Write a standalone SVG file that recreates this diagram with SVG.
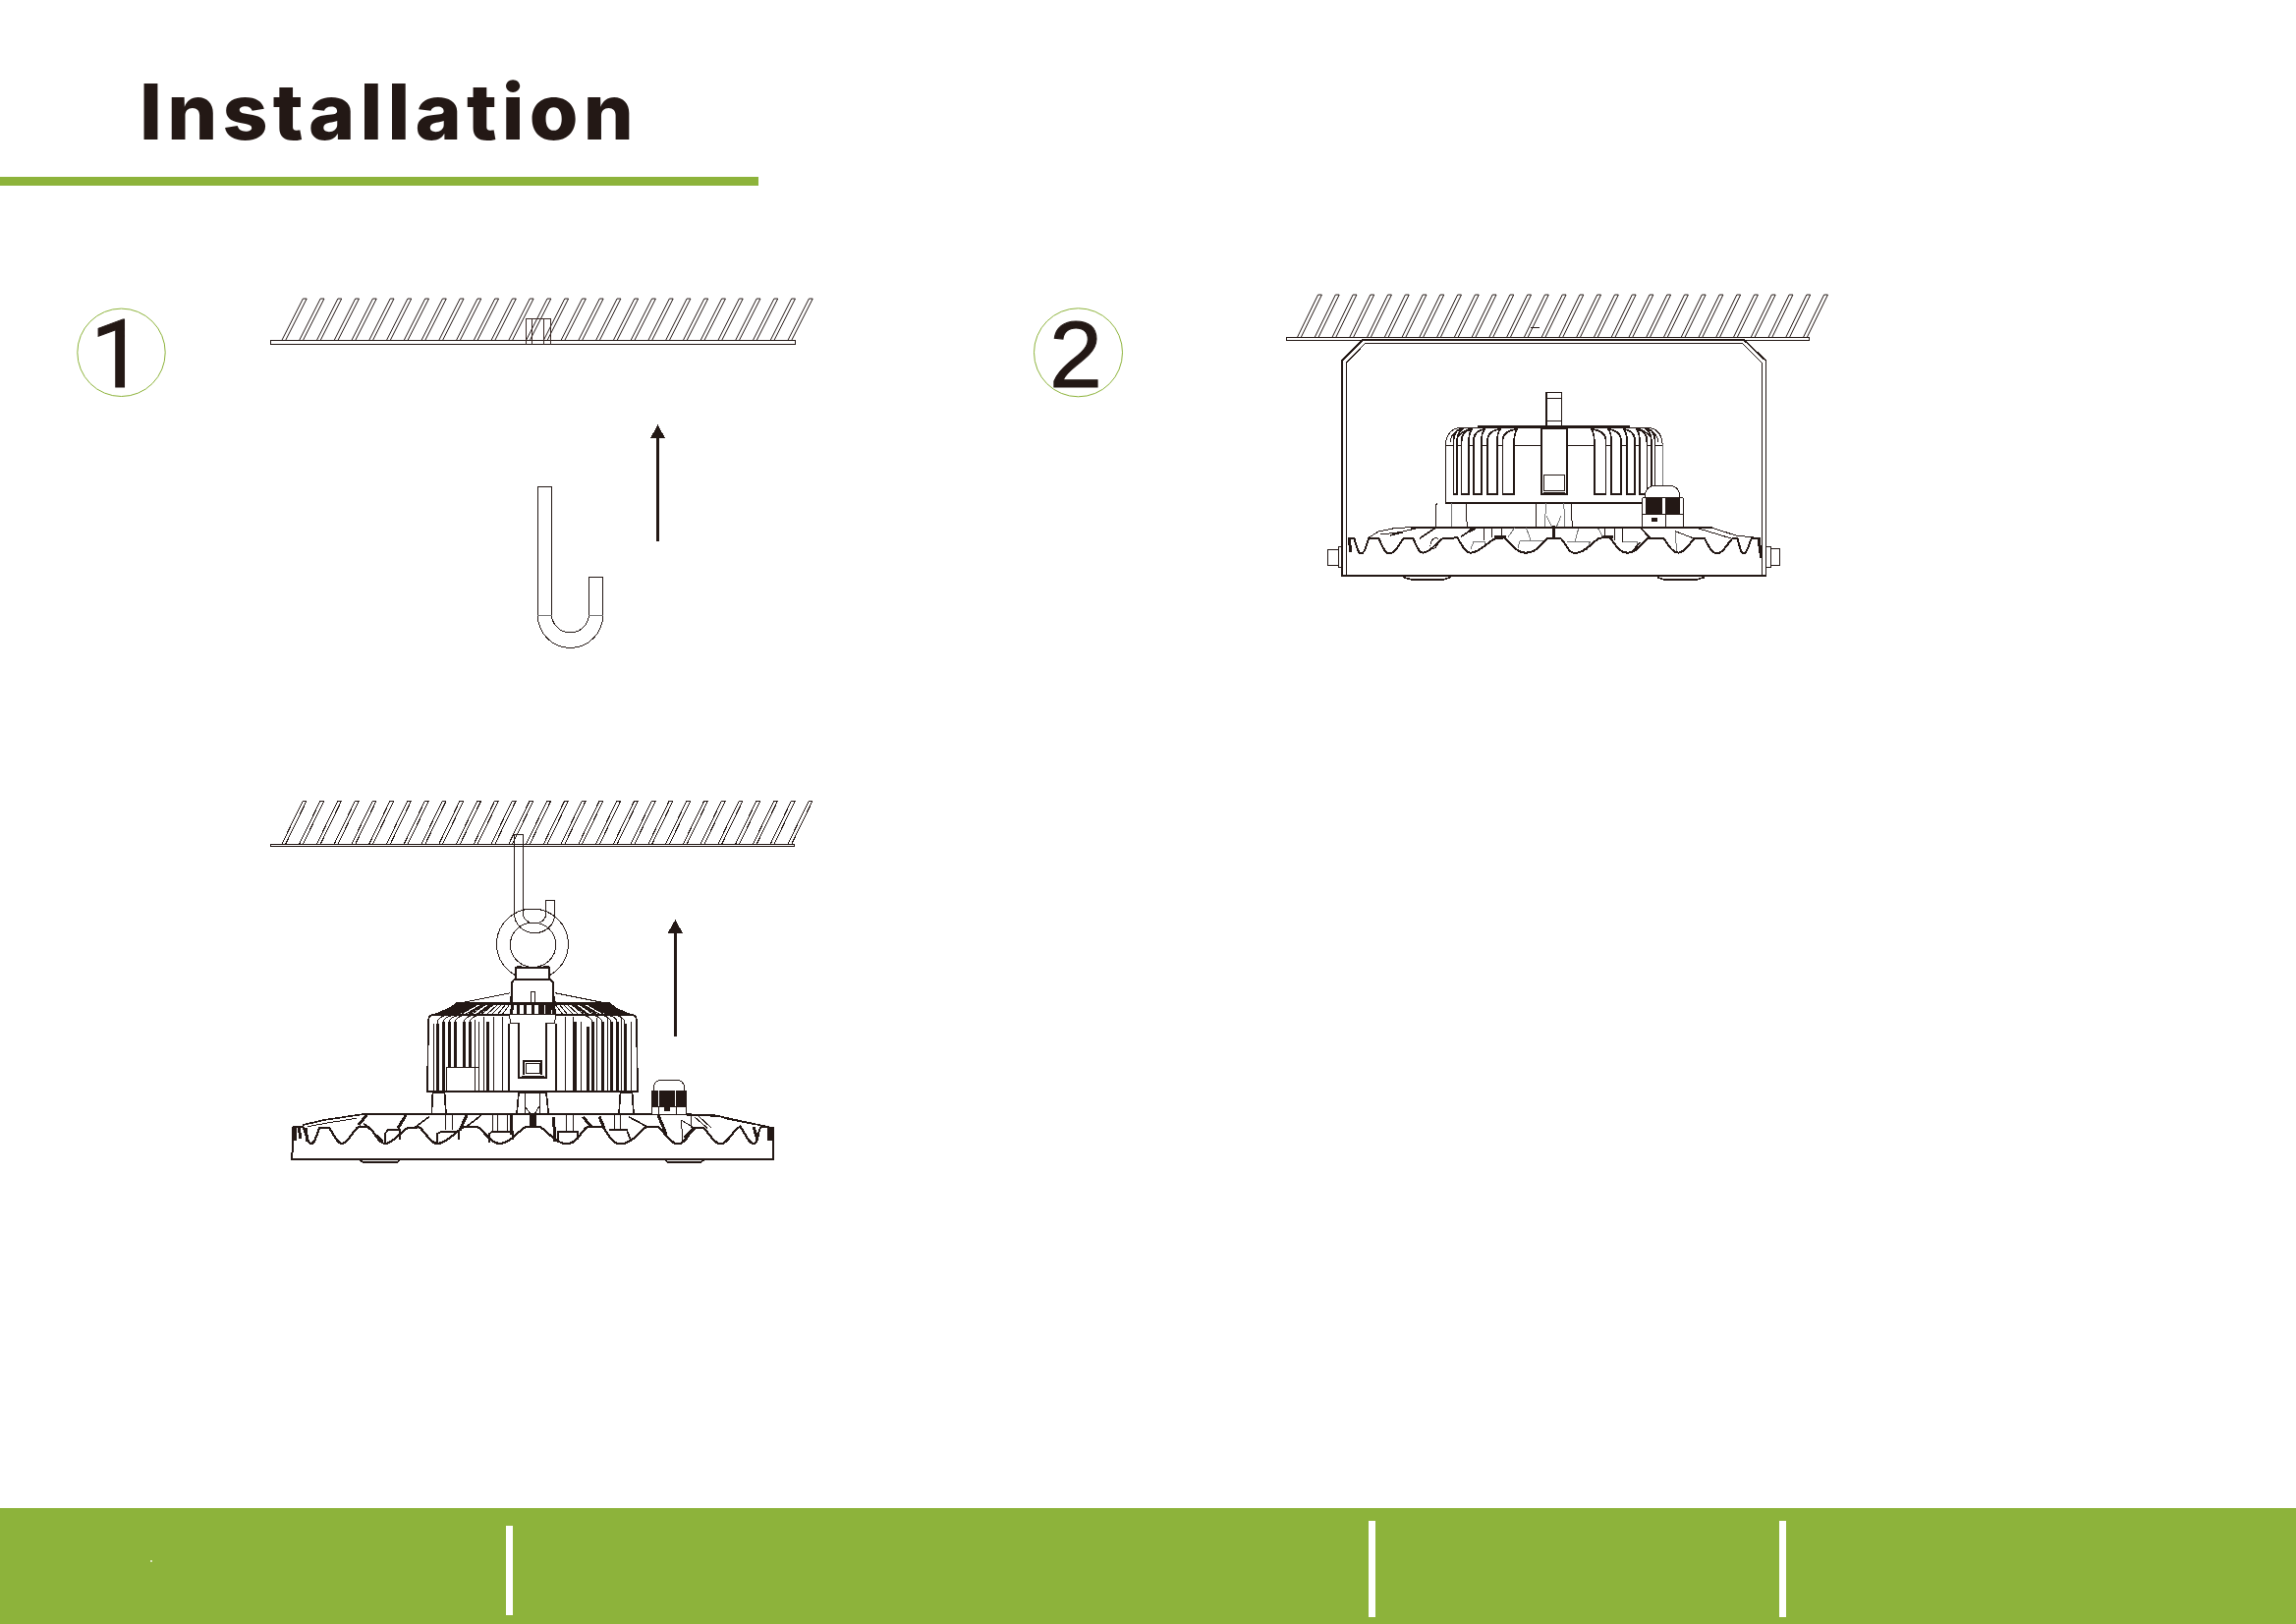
<svg xmlns="http://www.w3.org/2000/svg" xmlns:xlink="http://www.w3.org/1999/xlink" width="2337" height="1653" viewBox="0 0 2337 1653">
<style>
.art{shape-rendering:crispEdges}
.k{fill:none;stroke:#231815;stroke-width:1}
.w{fill:#fff;stroke:#231815;stroke-width:1}
.m{fill:none;stroke:#231815;stroke-width:1.7}
.t{fill:none;stroke:#231815;stroke-width:3}
.g{fill:none;stroke:#777;stroke-width:1}
.d{fill:#231815}
.n{fill:#fff}
.green{fill:#8DB33B}
.badge{fill:#fff;stroke:#8DB33B;stroke-width:1}
.num{font-size:97px;fill:#231815;stroke:#231815;stroke-width:1}
</style>
<defs>
<path id="h" class="k" d="M0 44L21.3 0h3.8L3.8 44"/>
<g id="hatch">
<use xlink:href="#h" x="0"/><use xlink:href="#h" x="17.76"/><use xlink:href="#h" x="35.52"/><use xlink:href="#h" x="53.28"/><use xlink:href="#h" x="71.04"/><use xlink:href="#h" x="88.8"/><use xlink:href="#h" x="106.56"/><use xlink:href="#h" x="124.32"/><use xlink:href="#h" x="142.08"/><use xlink:href="#h" x="159.84"/><use xlink:href="#h" x="177.6"/><use xlink:href="#h" x="195.36"/><use xlink:href="#h" x="213.12"/><use xlink:href="#h" x="230.88"/><use xlink:href="#h" x="248.64"/><use xlink:href="#h" x="266.4"/><use xlink:href="#h" x="284.16"/><use xlink:href="#h" x="301.92"/><use xlink:href="#h" x="319.68"/><use xlink:href="#h" x="337.44"/><use xlink:href="#h" x="355.2"/><use xlink:href="#h" x="372.96"/><use xlink:href="#h" x="390.72"/><use xlink:href="#h" x="408.48"/><use xlink:href="#h" x="426.24"/><use xlink:href="#h" x="444"/><use xlink:href="#h" x="461.76"/><use xlink:href="#h" x="479.52"/><use xlink:href="#h" x="497.28"/><use xlink:href="#h" x="515.04"/>
</g>
<g id="l1radial">
<path class="k" d="M467 1022L441 1033M471 1022L446 1033M475 1022L452 1033M479 1022L457 1033M483 1022L462 1033M487 1022L468 1033M491 1022L473 1033M495 1022L479 1033M499 1022L484 1033M503 1022L489 1033M507 1022L495 1033M511 1022L500 1033M515 1022L506 1033M519 1022L511 1033"/>
<path class="m" d="M469 1022L443 1033M473 1022L449 1033M477 1022L454 1033M481 1022L459 1033M485 1022L465 1033M493 1022L476 1033M501 1022L486 1033"/>
<path class="t" d="M522 1022L520 1033M528 1022L527 1033M535 1022L534 1033"/>
</g>
<g id="l2half">
<path class="m" style="fill:#fff" d="M1479.4 503V450Q1479.4 439 1486 437H1488Q1483.1 441 1483.1 450V503ZM1487.6 503V450Q1487.6 438 1498 437Q1495 441 1495 450V503ZM1499.8 503V450Q1499.8 438 1511 437Q1507.9 441 1507.9 450V503ZM1513.8 503V450Q1513.8 438 1527 437Q1523.8 441 1523.8 450V503ZM1529.4 503V450Q1529.4 438 1544 437Q1541.2 441 1541.2 450V503Z"/>
<path class="k" d="M1476 450Q1477 439 1490 436M1484 445Q1488 439 1496 436"/>
</g>
</defs>

<rect id="canvas" width="2337" height="1653" fill="#fff"/>

<g id="title">
<text x="142" y="141.7" font-family="Inter,'Liberation Sans',sans-serif" font-weight="800" font-size="78" letter-spacing="5" fill="#231815" textLength="508" lengthAdjust="spacingAndGlyphs">Installation</text>
<rect class="green" x="0" y="180" width="772" height="9"/>
</g>

<g id="badge-1"><circle class="badge" cx="123.5" cy="358.8" r="44.7"/><text class="num" font-family="Roboto,'Liberation Sans',sans-serif" x="92" y="393.5">1</text></g>
<g id="badge-2"><circle class="badge" cx="1097.5" cy="358.8" r="45"/><text class="num" font-family="'Liberation Sans',Arial,sans-serif" x="1068" y="393.5">2</text></g>

<g class="art">
<g id="ceiling-1">
<use xlink:href="#hatch" transform="translate(287.1,304) scale(1,.9545)"/>
<rect class="w" x="275" y="346.3" width="534" height="4.4"/>
<path d="M535.5 350.7V324.3H560.4V350.7M541.6 324.3V350.7M553.5 324.3V350.7" fill="none" stroke="#3a2a26" stroke-width="1"/>
</g>

<g id="hook-1">
<path class="k" d="M547.4 626.3V495.3H561.5V626.3A19 19 0 0 0 599.4 626.3V587.3H613.6V626.3A33.1 33.1 0 0 1 547.4 626.3Z"/>
<path class="g" d="M547.4 626.3H561.5M599.4 626.3H613.6"/>
</g>

<g id="arrow-1"><path class="d" d="M668 550.7V445.7H662.2L669.4 432.3L677 445.7H671V550.7Z"/></g>

<g id="ceiling-2">
<use xlink:href="#hatch" transform="translate(287,815)"/>
<rect class="w" x="275" y="859" width="533.6" height="2.8"/>
</g>

<g id="lamp-1">
<path class="k" d="M523.5 930V849.3H532.4V930A11.7 10 0 0 0 555.8 930V916.3H564.8V930A20.6 19.7 0 0 1 523.5 930"/>
<ellipse class="k" cx="542" cy="961" rx="36.5" ry="36"/>
<ellipse class="k" cx="542.6" cy="961.7" rx="23.2" ry="22.7"/>
<path class="w" style="stroke-width:1.7" d="M525.2 985H559L559 996.7H525Z"/>
<path class="t" d="M526 984.5L531 984M558.5 984.5L553 984"/>
<path class="m" d="M521 1021V1000L524 996.7H560L563 1000V1021M519.3 1021L521 1010.7M565 1021L563 1010.7"/>
<path class="k" d="M519.3 1010.7L466 1021.5M565 1010.7L619 1021.5"/>
<rect class="w" x="540" y="1009.3" width="4.5" height="12"/>
<path class="m" d="M435 1110.7L436 1040Q436 1033 441 1033H643Q648 1033 648 1040L649 1110.7Z"/>
<path class="t" d="M452 1033L465 1021.5H620L633 1033"/>
<use xlink:href="#l1radial"/>
<use xlink:href="#l1radial" transform="translate(1084,0) scale(-1,1)"/>
<path class="t" d="M542 1022V1033M552 1022L553 1033M559 1022L560 1033M563 1022L565 1033"/>
<path class="t" d="M445 1042V1110M451 1040V1110M457 1040V1086M463 1040V1086M472 1040V1086M478 1040V1086M496 1040V1110M585 1040V1110M598 1045V1110M603 1040V1110M613 1040V1110M622 1040V1110M628 1040V1110M636 1042V1110"/>
<path class="k" d="M441 1110V1042M454 1086H487M454 1086V1110M483 1038V1110M487 1040V1110M492 1035V1110M502 1035V1110M511 1035V1110M575 1035V1110M583 1035V1110M591 1040V1110M607 1036V1110M618 1036V1110M632 1036V1110M642 1040V1110"/>
<path class="k" d="M445 1042Q445 1036 452 1034M451 1040Q452 1036 459 1034M457 1040Q458 1036 465 1034M463 1040Q464 1036 470 1034M472 1040Q473 1036 479 1034M478 1040Q479 1036 485 1034M636 1042Q636 1036 629 1034M628 1040Q628 1036 621 1034M622 1040Q621 1036 615 1034M613 1040Q612 1036 606 1034M603 1040Q602 1036 596 1034"/>
<path class="w" d="M518.3 1033L520 1041.7H528.3V1097.3H556V1041.7H564.3L566 1033"/>
<path class="m" d="M518.3 1041.7V1110.7M566 1041.7V1110.7M528.3 1041V1097.3H556V1041"/>
<path class="m" d="M533.3 1094V1080H551V1094"/>
<path class="k" d="M535 1082H549V1092H535ZM531 1095H554"/>
<path class="m" d="M439.3 1134L440.5 1112H452.5L454 1134M630 1134L631.5 1112H643.5L645 1134"/>
<path class="m" d="M526 1134L528 1112H556L558.3 1134"/>
<path class="k" d="M534.3 1112V1134M549 1112V1134M534.3 1126L540 1134M549 1126L544 1134"/>
<path class="w" style="stroke-width:2" d="M298.3 1146.7L297.3 1179.6H786.7V1146.7"/>
<path class="m" style="stroke-width:2.2" d="M368 1134.3H696.7L730 1135.7"/>
<path class="m" d="M308.3 1145L330 1140L368 1134.3M730 1135.7L756.7 1141.7L783.3 1147.3"/>
<path class="k" d="M313 1146.7L333 1143L363 1138.3M736.7 1138.3L770 1145M706.7 1136.7L720 1148.3M711 1136L724 1148"/>
<path class="k" d="M453.3 1135V1150M460 1135V1150M501.7 1135V1152M506.7 1135V1152M516.7 1135V1152M576.7 1135V1151M583.3 1135V1151M625 1135V1150M631 1135V1150M703.3 1135V1148M693.3 1140L695 1161.7M693.3 1140L706.7 1148.3"/>
<path class="m" d="M391.7 1163V1154L395 1150H406.7V1160M445 1163V1154L449 1151.7H466.7V1160M498 1163V1154L501 1151.7H521.7V1160M568.3 1163V1151.7H588.3V1160M620 1150H638L641.7 1160M370 1143.3L390 1161.7"/>
<path class="t" d="M365 1145L373.3 1135M405 1148.3L413.3 1135M468.3 1150L475 1135M520 1135V1155M563.3 1136.7L565 1161.7M593.3 1136.7L601.7 1146.7M610 1136.7L615 1148.3M670 1135L678.3 1155M696.7 1158.3L706.7 1148.3"/>
<path class="m" d="M423 1147L436.7 1136.7M475 1146.7L490 1135M640 1136.7L658.3 1146.7"/>
<rect class="d" x="539" y="1134" width="7" height="13"/>
<path class="m" style="stroke-width:2.2" d="M298.3 1146.7H308.3C312 1155 313 1164 316.7 1164C321 1164 322 1155 325 1148H335C340 1155 343 1164 348.3 1164C354 1164 360 1150 365 1146.7H375C380 1150 385 1164 391.7 1164C400 1164 408 1152 415 1148L426.7 1147.3C433 1152 438 1164 445 1164C454 1164 464 1152 471.7 1147.3H486.7C493 1152 500 1164 508.3 1164C520 1164 528 1150 535 1147.3H550C558 1152 566 1164.3 576.7 1164.3C588 1164.3 592 1150 598.3 1146.7H613.3C618 1152 622 1164.3 631.7 1164.3C644 1164.3 652 1150 658.3 1146.7H670C676 1152 682 1164.3 690 1164.3C698 1164.3 702 1152 706.7 1148.3H716.7C722 1154 727 1164.3 733.3 1164.3C741 1164.3 746 1150 753.3 1146.7C758 1152 762 1164.3 767.3 1164.3C772 1164.3 771 1150 775 1146.7H780"/>
<path class="t" d="M300 1147V1161M304 1147L306 1159M311 1148L313 1162M767 1147L771 1160M782 1147V1161M785 1147V1161"/>
<path class="m" d="M366 1180.5H407L404 1183.3H370ZM676.7 1180.5H716.7L713 1183.3H680Z"/>
<path class="w" d="M665 1110V1106Q667 1099.3 673 1099.3H689Q695 1099.3 696.7 1106V1110"/>
<rect class="d" x="663.3" y="1110" width="35.7" height="16"/>
<path class="n" d="M669.5 1110h1.4v16h-1.4zM686.7 1110h1.4v16h-1.4z"/>
<rect class="w" x="663.8" y="1126" width="34.5" height="8.3"/>
<rect class="d" x="676" y="1127.3" width="6.3" height="3.7"/>
<path class="k" d="M670 1126V1134M688 1126V1134"/>
</g>

<g id="arrow-2"><path class="d" d="M685.7 1055V950H679.5L687.4 936L695 950H689.1V1055Z"/></g>

<g id="ceiling-3">
<use xlink:href="#hatch" transform="translate(1320.3,300) scale(1,.993)"/>
<rect class="w" x="1309.2" y="343.7" width="532" height="2.8"/>
<path class="k" d="M1557.9 333.7H1567"/>
</g>

<g id="lamp-2">
<path class="w" d="M1351.8 559.3H1362V575H1351.8ZM1362 556H1366V577.7H1362ZM1811.7 558.3H1802V575H1811.7ZM1802 556H1797.6V577.7H1802Z"/>
<path class="k" d="M1471.3 512.3V452Q1473 436 1488 435H1676Q1691 436 1692.2 452V494"/>
<path class="m" d="M1504 434H1659"/>
<path class="k" d="M1471.3 453.3H1569M1595 453.3H1692.2"/>
<path class="m" d="M1471.3 512.3H1672"/>
<use xlink:href="#l2half"/>
<use xlink:href="#l2half" transform="translate(3164,0) scale(-1,1)"/>
<rect x="1569" y="436" width="26" height="67.3" fill="#fff" stroke="#231815" stroke-width="2"/>
<path class="k" d="M1571.5 499.3V483.3H1592.5V499.3ZM1571 501H1593"/>
<rect class="w" x="1573.8" y="399.3" width="15.9" height="34" style="stroke-width:1.4"/>
<path class="k" d="M1573.8 405H1589.7M1573.8 428.3H1589.7"/>
<path class="k" d="M1461.7 536.7V514L1463 512.3M1493.3 536.7L1492 512.3M1563.3 536.7L1564 512.3M1600.4 536.7L1599 512.3"/>
<path class="g" d="M1477.6 512.3V536.7M1573.8 512.3L1572 536.7M1591.7 512.3L1593 536.7M1574 525L1580 537M1589 525L1584 537"/>
<path class="m" style="stroke-width:2" d="M1436 536.7H1743"/>
<path class="k" d="M1392 548L1403 541L1420 537.5L1436 536.7M1743 537.3L1766.7 545L1791.7 547.7M1405 544L1425 541.7L1445 537M1728 537.7L1746.7 543.3L1763 548.3"/>
<path class="m" d="M1415 545L1428 541.7M1445 548L1455 541.5L1461.7 536.7M1486.7 546.7L1495 541M1670 537.3L1680 548.3"/>
<path class="t" d="M1495 541L1501.7 537.3M1581.7 535V548M1630 546.7H1642M1521 546.7H1533M1790 548L1792.7 568M1373 548L1375 562"/>
<path class="g" d="M1497 559L1500 551H1511.7V555M1545 558L1547 550.7H1571.7M1595 551.7H1618.3L1615 560M1651.7 551.7H1666.7L1667 560M1541.7 537.3L1535 546.7M1553.3 536.7L1558 550M1606.7 538L1603 551.7M1626.7 538L1631.7 546.7M1705 540.7L1706.7 561.7"/>
<path class="k" d="M1510 537V550M1518.3 537V546.7M1528.3 537V545M1633.3 537V546.7M1643.3 537V550M1651.7 537V551.7M1705 540.7L1725 548.3"/>
<path class="m" d="M1713 561.7L1725 548.3M1662 561L1669 552"/>
<ellipse class="k" cx="1460" cy="553" rx="3.5" ry="6" transform="rotate(25 1460 553)"/>
<path class="m" style="stroke-width:2" d="M1371.7 547.7H1378.3C1381 556 1382 563.3 1385.7 563.3C1390 563.3 1391 552 1393.3 548.3H1403.3C1407 555 1409 563.3 1414 563.3C1421 563.3 1425 552 1428.3 548.3H1438.3C1442 555 1444 562.7 1448.3 562.7C1456 562.7 1462 552 1468.3 548.3L1483.3 547.3C1488 554 1491 562.7 1496.7 562.7C1506 562.7 1514 552 1521.7 548.3L1531.7 547.3C1538 554 1544 562.7 1553.3 562.7C1564 562.7 1570 552 1575 547.7H1588.3C1594 553 1596 563 1603.3 563C1614 563 1622 550 1628.3 547.7L1638.3 546.7C1644 554 1648 562.7 1656.7 562.7C1666 562.7 1672 552 1676.7 548.3L1693.3 547.7C1698 554 1702 562.7 1708.3 562.7C1715 562.7 1720 552 1725 548.3H1735C1739 555 1742 563.3 1748.3 563.3C1754 563.3 1759 552 1763.3 548.3L1768.3 547.7C1771 555 1771 563.3 1775 563.3C1779 563.3 1780 552 1783.3 547.7H1791.7"/>
<path class="m" d="M1365.9 586.3V367.3L1386.9 346.3H1775.4L1797.6 367.3V586.3Z"/>
<path class="k" d="M1370.3 586V369.3L1389.9 349.3H1773.5L1793.2 369.3V586"/>
<path class="m" d="M1428.3 587.5L1436 589.7H1470L1476.7 587.5M1686.7 587.5L1693 589.7H1728L1735 587.5"/>
<path class="g" d="M1692.2 452V496"/>
<path class="w" d="M1674.4 506.7V503Q1676 494.3 1686 494.3H1698Q1708 494.3 1709.9 503V506.7"/>
<rect class="d" x="1675" y="506.7" width="35" height="16"/>
<path class="n" d="M1692 506.7h3v16h-3z"/>
<path class="k" d="M1671.8 506.7H1713M1671.8 506.7V523M1713 506.7V523"/>
<rect class="w" x="1671.7" y="523" width="41.6" height="13"/>
<rect class="d" x="1681" y="527.3" width="5.7" height="3.7"/>
<path class="k" d="M1695 523V536"/>
</g>
</g>

<g id="footer">
<rect class="green" x="0" y="1535" width="2337" height="118"/>
<rect class="n" x="515" y="1553" width="7" height="91"/>
<rect class="n" x="1393" y="1548" width="7" height="98"/>
<rect class="n" x="1811" y="1548" width="7" height="98"/>
<rect x="153" y="1588" width="2" height="2" fill="#d8e4bd"/>
</g>
</svg>
